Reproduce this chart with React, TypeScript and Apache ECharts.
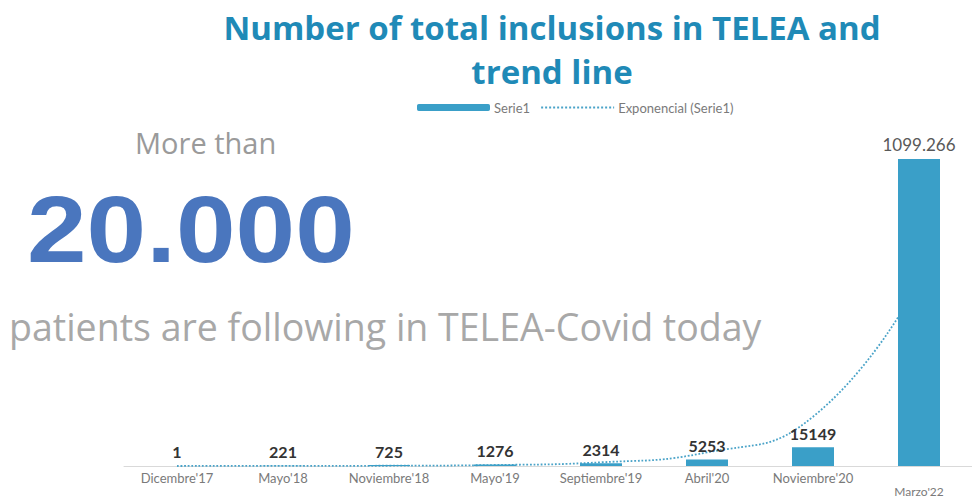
import React, { useEffect, useRef } from "react";
import * as echarts from "echarts";

const categories = [
  "Dicembre'17",
  "Mayo'18",
  "Noviembre'18",
  "Mayo'19",
  "Septiembre'19",
  "Abril'20",
  "Noviembre'20",
  "Marzo'22",
];
const serie1 = [1, 221, 725, 1276, 2314, 5253, 15149, 1099266];
const trend = [20, 60, 220, 800, 3000, 11000, 40000, 150000];
const titleLines = ["Number of total inclusions in TELEA and", "trend line"];

export default function App() {
  const ref = useRef<HTMLDivElement>(null);
  useEffect(() => {
    if (!ref.current) return;
    const chart = echarts.init(ref.current, null, { renderer: "svg" });
    const fmt = (v: number) =>
      v >= 100000
        ? `{g|${Math.floor(v / 1000)}.${String(v % 1000).padStart(3, "0")}}`
        : `{b|${v}}`;
    chart.setOption({
      animation: false,
      backgroundColor: "#ffffff",
      title: {
        text: titleLines.join("\n"),
        left: 547,
        textAlign: "center",
        top: 0,
        textStyle: {
          fontFamily: "Open Sans",
          fontWeight: "bold",
          fontSize: 33,
          lineHeight: 44,
          color: "#1f8ab7",
        },
      },
      legend: {
        left: 412,
        top: 96,
        itemWidth: 73,
        itemHeight: 7,
        itemGap: 10,
        textStyle: { fontFamily: "Lato", fontSize: 13, color: "#7a7a7a", padding: [0, 0, 0, -1] },
        data: [
          { name: "Serie1" },
          { name: "Exponencial (Serie1)", itemStyle: { opacity: 0 } },
        ],
      },
      grid: { left: 124, width: 858, top: 158, bottom: 27, containLabel: false },
      xAxis: {
        type: "category",
        data: categories.map((c, i) =>
          i === categories.length - 1
            ? { value: c, textStyle: { padding: [14, 0, 0, 0], fontSize: 12 } }
            : c
        ),
        axisLine: { show: true, lineStyle: { color: "#d9d9d9", width: 1 } },
        axisTick: { show: false },
        axisLabel: {
          interval: 0,
          hideOverlap: false,
          fontFamily: "Lato",
          fontSize: 13,
          color: "#7a7a7a",
          margin: 5,
        },
      },
      yAxis: {
        type: "value",
        min: 0,
        max: 1100000,
        breaks: [{ start: 200000, end: 1050000, gap: 0 }],
        breakArea: { show: false },
        axisLabel: { show: false },
        axisLine: { show: false },
        axisTick: { show: false },
        splitLine: { show: false },
      },
      series: [
        {
          name: "Exponencial (Serie1)",
          type: "line",
          data: trend,
          smooth: 0.5,
          showSymbol: false,
          symbol: "none",
          z: 1,
          lineStyle: { color: "#4aa3c8", width: 1.8, type: "dotted" },
          itemStyle: { color: "#4aa3c8" },
        },
        {
          name: "Serie1",
          type: "bar",
          data: serie1,
          barWidth: 42,
          z: 3,
          itemStyle: { color: "#3a9fc8" },
          label: {
            show: true,
            position: "top",
            distance: 6,
            formatter: (p: any) => fmt(p.value),
            rich: {
              b: {
                fontFamily: "Lato",
                fontWeight: "bold",
                fontSize: 16,
                color: "#333333",
              },
              g: {
                fontFamily: "Lato",
                fontSize: 17,
                color: "#595959",
              },
            },
          },
        },
      ],
      graphic: [
        {
          type: "text",
          left: 135,
          top: 128,
          style: {
            text: "More than",
            fontFamily: "Open Sans",
            fontSize: 29,
            fill: "#9a9a9a",
          },
        },
        {
          type: "text",
          x: 27,
          y: 182,
          scaleX: 1.14,
          style: {
            text: "20.000",
            fontFamily: "Liberation Sans",
            fontWeight: "bold",
            fontSize: 94,
            fill: "#4a76be",
          },
        },
        {
          type: "text",
          left: 9,
          top: 307,
          style: {
            text: "patients are following in TELEA-Covid today",
            fontFamily: "Open Sans",
            fontSize: 37.5,
            fill: "#a8a8a8",
          },
        },
      ],
    });
    return () => chart.dispose();
  }, []);
  return (
    <div
      ref={ref}
      style={{ position: "absolute", left: 0, top: 0, width: 972, height: 497 }}
    />
  );
}
